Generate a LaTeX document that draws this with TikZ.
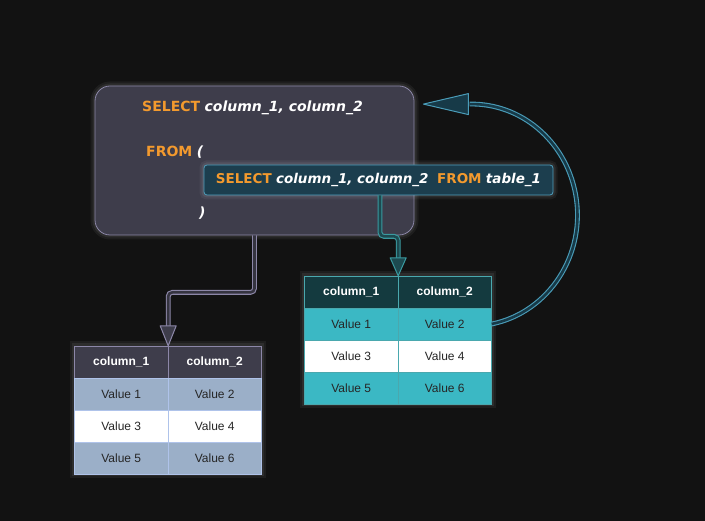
\documentclass[tikz,border=0pt]{standalone}
\usepackage{fontspec}
\setmainfont{Liberation Sans}
\newfontfamily\sqlfont{DejaVu Sans}
\usetikzlibrary{positioning}

\definecolor{bg}{HTML}{121212}
\definecolor{qfill}{HTML}{3E3D4B}
\definecolor{qline}{HTML}{8C87A8}
\definecolor{sfill}{HTML}{1C3E4E}
\definecolor{sline}{HTML}{4F9FBD}
\definecolor{kw}{HTML}{F39A2E}
\definecolor{lrow}{HTML}{9BAFC8}
\definecolor{lgrid}{HTML}{AFC3EA}
\definecolor{rhead}{HTML}{143A3F}
\definecolor{rrow}{HTML}{3BB8C4}
\definecolor{rline}{HTML}{4AA8AE}
\definecolor{tline}{HTML}{3A9AA0}
\definecolor{tin}{HTML}{1D4A50}
\definecolor{cline}{HTML}{4A9CB8}
\definecolor{cin}{HTML}{173A48}

\tikzset{
  glow/.style={preaction={draw=white, opacity=0.05, line width=9pt},
               preaction={draw=white, opacity=0.07, line width=5pt}},
  cell/.style={minimum width=93.5pt, minimum height=32pt, inner sep=0pt,
               font=\fontsize{12}{14}\selectfont, text=black!85},
  headcell/.style={cell, text=white, font=\fontsize{12}{14}\selectfont\bfseries},
  sql/.style={font=\sqlfont\fontsize{14}{17}\selectfont, text=white, inner sep=0pt},
}
\newcommand{\kw}[1]{\textcolor{kw}{\bfseries #1}}
\newcommand{\id}[1]{{\bfseries\itshape #1}}

\begin{document}
\begin{tikzpicture}[x=1pt, y=-1pt]
  % background
  \fill[bg] (0,0) rectangle (705,521);

  % outer query box
  \node[glow, draw=qline, fill=qfill, rounded corners=15pt, line width=0.8pt,
        minimum width=319pt, minimum height=149pt] (query) at (254.5,160.5) {};
  \node[sql, anchor=west] (sel) at (142,107.5) {\kw{SELECT} \id{column\_1, column\_2}};
  \node[sql, anchor=west] (from) at (146,152) {\kw{FROM} \id{(}};
  \node[sql, anchor=west] (close) at (199,213) {\id{)}};

  % inner query box
  \node[sql, glow, draw=sline, fill=sfill, rounded corners=3pt, line width=0.8pt,
        font=\sqlfont\fontsize{13.5}{16}\selectfont,
        minimum width=349pt, minimum height=30pt] (sub) at (378.5,180)
        {\kw{SELECT} \id{column\_1, column\_2}\ \ \kw{FROM} \id{table\_1}};

  % left table (outer query result)
  \draw[glow, fill=qfill] (74.5,346) rectangle (261.5,474);
  \node[headcell, fill=qfill, draw=qline] (lh1) at (121.25,362) {column\_1};
  \node[headcell, fill=qfill, draw=qline] (lh2) at (214.75,362) {column\_2};
  \foreach \r/\y/\c in {1/394/lrow, 2/426/white, 3/458/lrow} {
    \pgfmathtruncatemacro\a{2*\r-1}
    \pgfmathtruncatemacro\b{2*\r}
    \node[cell, fill=\c, draw=lgrid] (lv\a) at (121.25,\y) {Value \a};
    \node[cell, fill=\c, draw=lgrid] (lv\b) at (214.75,\y) {Value \b};
  }

  % right table (subquery result)
  \draw[glow, fill=rhead] (304.5,276) rectangle (491.5,404);
  \node[headcell, fill=rhead, draw=rline] (rh1) at (351.25,292) {column\_1};
  \node[headcell, fill=rhead, draw=rline] (rh2) at (444.75,292) {column\_2};
  \foreach \r/\y/\c in {1/324/rrow, 2/356/white, 3/388/rrow} {
    \pgfmathtruncatemacro\a{2*\r-1}
    \pgfmathtruncatemacro\b{2*\r}
    \node[cell, fill=\c, draw=rline] (rv\a) at (351.25,\y) {Value \a};
    \node[cell, fill=\c, draw=rline] (rv\b) at (444.75,\y) {Value \b};
  }

  % arrow bases and tip
  \coordinate (lbase) at ([yshift=20pt]lh1.north east);
  \coordinate (rbase) at ([yshift=18pt]rh1.north east);
  \coordinate (back) at ([xshift=9pt, yshift=-18.5pt]query.north east);

  % outer query -> left table
  \draw[draw=qline, double=qfill!85!black, double distance=2.6pt, line width=1.1pt,
        rounded corners=4pt] (query.south) -- ++(0,57) -| (lbase);
  \draw[draw=qline, fill=qfill, line width=1pt, line join=round]
    (lh1.north east) -- ++(-8,-20) -- ++(16,0) -- cycle;

  % subquery -> right table
  \draw[draw=tline, double=tin, double distance=2.6pt, line width=1.1pt,
        rounded corners=4pt] ([xshift=1.5pt]sub.south) -- ++(0,41) -| (rbase);
  \draw[draw=tline, fill=tin, line width=1pt, line join=round]
    (rh1.north east) -- ++(-8,-18) -- ++(16,0) -- cycle;

  % right table feeds back into outer query
  \draw[draw=cline, double=cin, double distance=2.6pt, line width=1.1pt]
    (rv2.east) arc[start angle=79, end angle=-91, x radius=106, y radius=111];
  \draw[draw=cline, fill=cin, line width=1pt, line join=round]
    (back) -- ++(45,-10.5) -- ++(0,21) -- cycle;
\end{tikzpicture}
\end{document}
